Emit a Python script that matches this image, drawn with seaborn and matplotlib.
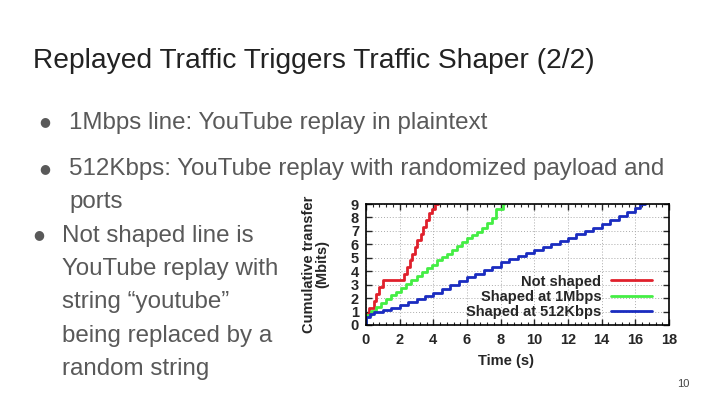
import matplotlib
matplotlib.use("Agg")
import matplotlib.pyplot as plt
import seaborn as sns
import pandas as pd
from matplotlib.ticker import MultipleLocator

sns.set_style("white")
plt.rcParams['font.family'] = ['Liberation Sans', 'DejaVu Sans']

# ---- data ----
red_x = [0, 0.02, 0.2, 0.45, 0.6, 0.8, 1.0, 2.25, 2.45, 2.6, 2.75, 2.9, 3.05, 3.25, 3.4, 3.55, 3.75, 3.95, 4.1, 4.25]
red_y = [0, 0.85, 1.3, 1.8, 2.3, 2.8, 3.35, 3.8, 4.3, 4.8, 5.3, 5.8, 6.3, 6.8, 7.3, 7.8, 8.3, 8.6, 9.0, 9.0]

green_x = [0, 0.02, 0.3, 0.6, 0.9, 1.2, 1.5, 1.8, 2.1, 2.4, 2.7, 3.0, 3.3, 3.6, 3.9, 4.2, 4.5, 4.8,
           5.1, 5.4, 5.7, 6.0, 6.3, 6.6, 6.9, 7.2, 7.5, 7.7, 8.15, 8.2]
green_y = [0, 0.75, 1.05, 1.35, 1.65, 1.9, 2.2, 2.45, 2.75, 3.05, 3.35, 3.65, 3.95, 4.25, 4.5, 4.8, 5.05, 5.3,
           5.6, 5.9, 6.15, 6.45, 6.7, 6.95, 7.25, 7.6, 7.95, 8.6, 9.0, 9.0]

blue_x = [0, 0.02, 0.25, 0.5, 1.0, 1.5, 2.0, 2.5, 3.0, 3.5, 4.0, 4.5, 5.0, 5.5, 6.0, 6.5, 7.0, 7.5, 8.0,
          8.5, 9.0, 9.5, 10.0, 10.5, 11.0, 11.5, 12.0, 12.5, 13.0, 13.5, 14.0, 14.5, 15.0, 15.5, 16.0, 16.3, 16.6]
blue_y = [0, 0.6, 0.85, 0.95, 1.1, 1.3, 1.5, 1.7, 1.95, 2.15, 2.4, 2.7, 2.95, 3.25, 3.55, 3.8, 4.1, 4.35, 4.65,
          4.9, 5.15, 5.35, 5.6, 5.8, 6.05, 6.25, 6.5, 6.75, 7.0, 7.25, 7.5, 7.8, 8.1, 8.4, 8.7, 9.0, 9.0]

series_labels = ["Not shaped", "Shaped at 1Mbps", "Shaped at 512Kbps"]
series_colors = ["#e0202c", "#44ee44", "#1a2cc0"]

x_ticks = [0, 2, 4, 6, 8, 10, 12, 14, 16, 18]
y_ticks = [0, 1, 2, 3, 4, 5, 6, 7, 8, 9]

title = "Replayed Traffic Triggers Traffic Shaper (2/2)"
bullet1 = "1Mbps line: YouTube replay in plaintext"
bullet2 = ["512Kbps: YouTube replay with randomized payload and", "ports"]
bullet3 = ["Not shaped line is", "YouTube replay with", "string \u201cyoutube\u201d",
           "being replaced by a", "random string"]
page_no = "10"

# ---- figure ----
W, H = 720, 405
fig = plt.figure(figsize=(7.2, 4.05), dpi=100)
fig.patch.set_facecolor("white")

def fx(px):
    return px / W

def fy(py):
    return 1 - py / H

fig.text(fx(33), fy(68.5), title, fontsize=20.25, color="#222222", va="baseline", ha="left")

text_col = "#595959"
bullet_fs = 17.4
fig.text(fx(45), fy(122), "\u25cf", fontsize=9, color=text_col, ha="center", va="center",
         family=['DejaVu Sans'])
fig.text(fx(69), fy(129.3), bullet1, fontsize=bullet_fs, color=text_col, va="baseline")

fig.text(fx(45), fy(168.5), "\u25cf", fontsize=9, color=text_col, ha="center", va="center",
         family=['DejaVu Sans'])
fig.text(fx(69), fy(175), bullet2[0], fontsize=bullet_fs, color=text_col, va="baseline")
fig.text(fx(69), fy(208.3), bullet2[1], fontsize=bullet_fs, color=text_col, va="baseline")

fig.text(fx(39), fy(235), "\u25cf", fontsize=9, color=text_col, ha="center", va="center",
         family=['DejaVu Sans'])
for i, line in enumerate(bullet3):
    fig.text(fx(62), fy(241.7 + i * 33.3), line, fontsize=bullet_fs, color=text_col, va="baseline")

fig.text(fx(683), fy(387), page_no, fontsize=8, color="#444444", va="baseline", ha="center")

# ---- chart ----
ax_l, ax_r, ax_t, ax_b = 366, 669, 204, 325
ax = fig.add_axes([fx(ax_l), fy(ax_b), (ax_r - ax_l) / W, (ax_b - ax_t) / H])

frames = []
for lab, xs, ys in zip(series_labels, [red_x, green_x, blue_x], [red_y, green_y, blue_y]):
    frames.append(pd.DataFrame({"time": xs, "mbits": ys, "series": lab}))
df = pd.concat(frames, ignore_index=True)

sns.lineplot(data=df, x="time", y="mbits", hue="series", hue_order=series_labels,
             palette=series_colors, drawstyle="steps-post", linewidth=2.0,
             estimator=None, sort=False, ax=ax)

ax.set_xlim(0, 18)
ax.set_ylim(0, 9)
ax.set_xticks(x_ticks)
ax.set_yticks(y_ticks)
ax.xaxis.set_minor_locator(MultipleLocator(0.4))
ax.tick_params(which="both", direction="in", top=True, right=True, bottom=True, left=True)
ax.tick_params(which="major", length=4, width=1, labelsize=10.5)
ax.tick_params(axis="x", which="major", pad=5.5)
ax.tick_params(axis="y", which="major", pad=5)
ax.tick_params(which="minor", length=2.5, width=0.8)
for lbl in ax.get_xticklabels() + ax.get_yticklabels():
    lbl.set_fontweight("bold")
ax.grid(True, which="major", linestyle=(0, (1, 2)), color="#aaaaaa", linewidth=0.7)
for s in ax.spines.values():
    s.set_visible(True)
    s.set_color("black")
    s.set_linewidth(1.2)

ax.set_xlabel("Time (s)", fontsize=10.5, fontweight="bold")
ax.xaxis.set_label_coords((506 - ax_l) / (ax_r - ax_l), -(354 - ax_b) / (ax_b - ax_t))
ax.set_ylabel("Cumulative transfer\n(Mbits)", fontsize=10.5, fontweight="bold",
              linespacing=0.95)
ax.yaxis.set_label_coords(-(ax_l - 329) / (ax_r - ax_l), 0.5)

leg = ax.legend(loc="center right", bbox_to_anchor=((652 - ax_l) / (ax_r - ax_l),
                                                     (ax_b - 297) / (ax_b - ax_t)),
                frameon=False, markerfirst=False, handlelength=2.8, handletextpad=0.68,
                labelspacing=0.1, borderpad=0, borderaxespad=0,
                prop={"weight": "bold", "size": 10.5})
for h in leg.get_lines():
    h.set_linewidth(2.0)

fig.savefig("out.png", dpi=100, facecolor="white")
